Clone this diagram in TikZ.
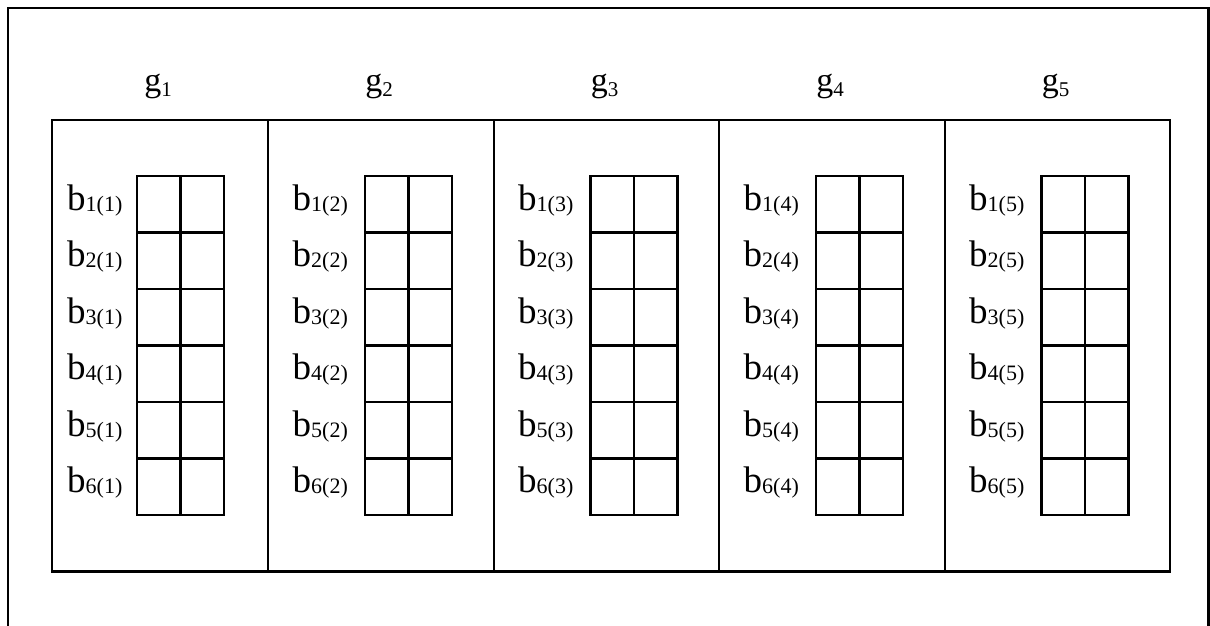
\documentclass[tikz,border=0pt]{standalone}
\usepackage{fontspec}
\setmainfont{Liberation Serif}
\newcommand{\blab}[2]{{\fontsize{37}{37}\selectfont b}{\fontsize{22}{22}\selectfont\raisebox{-1pt}{#1(#2)}}}
\newcommand{\glab}[1]{{\fontsize{34}{34}\selectfont g}{\fontsize{21}{21}\selectfont\raisebox{-5pt}{#1}}}
\tikzset{
  frame/.style={line width=2.2pt},
  panel/.style={draw, line width=2.9pt, inner sep=0pt},
  cell/.style={draw, line width=2.9pt, minimum width=43.5pt, minimum height=56.5pt, inner sep=0pt, outer sep=0pt},
  lab/.style={inner sep=0pt, anchor=base west},
  glabel/.style={inner sep=0pt, anchor=base},
}
\begin{document}
\begin{tikzpicture}[x=1pt,y=-1pt]
\useasboundingbox (0,0) rectangle (1210,626);
% outer frame (bottom edge cut off)
\coordinate (fbl) at (8,626);
\coordinate (ftl) at (8,8);
\coordinate (ftr) at (1208.5,8);
\coordinate (fbr) at (1208.5,626);
\draw[frame] (fbl) -- (ftl) -- (ftr) -- (fbr);
% panels
\def\pl{{52,268,494,719,945,1170}}
\foreach \i in {1,...,5}{
  \pgfmathsetmacro{\xa}{\pl[\i-1]}
  \pgfmathsetmacro{\xb}{\pl[\i]}
  \pgfmathsetmacro{\xc}{(\xa+\xb)/2}
  \coordinate (p\i-tl) at (\xa,120);
  \coordinate (p\i-br) at (\xb,571.5);
  \draw[panel] (p\i-tl) rectangle (p\i-br);
  \node[glabel] (g\i) at (\xc-2,92) {\glab{\i}};
  % grid
  \pgfmathsetmacro{\gx}{ifthenelse(\i==1,137,365+225.5*(\i-2))}
  \pgfmathsetmacro{\lx}{ifthenelse(\i==1,67,292.5+225.5*(\i-2))}
  \foreach \k in {1,...,6}{
    \pgfmathsetmacro{\cy}{176+56.5*(\k-1)+28.25}
    \node[cell] (c\i-\k-a) at (\gx+21.75,\cy) {};
    \node[cell] (c\i-\k-b) at (\gx+65.25,\cy) {};
    \node[lab] (b\i-\k) at (\lx,\cy+6) {\blab{\k}{\i}};
  }
}
\end{tikzpicture}
\end{document}
